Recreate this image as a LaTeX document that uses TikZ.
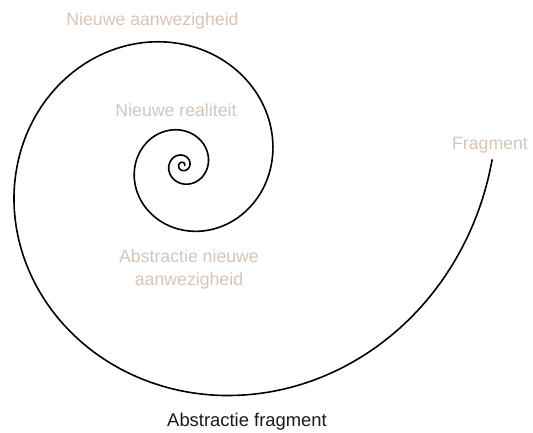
\documentclass[tikz,border=0pt]{standalone}
\usepackage{fontspec}
\setmainfont{Liberation Sans}
\usepackage{xcolor}
\usepackage{tikz}
\usetikzlibrary{positioning}

\definecolor{sand}{RGB}{214,197,183}
\definecolor{ink}{RGB}{25,25,25}

\begin{document}
\begin{tikzpicture}[
  x=1pt, y=-1pt,
  stage/.style={font=\fontsize{17.7}{22.5}\selectfont, text=sand, align=center,
                inner sep=0pt, anchor=base},
  outcome/.style={font=\fontsize{18.4}{22}\selectfont, text=ink, inner sep=0pt,
                  anchor=base},
  curl/.style={line width=1.6pt, black, line cap=round}
]
\useasboundingbox (0,0) rectangle (533,433);

% log spiral, centre (182.6,165.2), shrinking 0.732 per quarter turn
\draw[curl] plot[domain=-1:1450, samples=500, smooth]
  ({182.6+234.8*exp(-0.1986*(\x-78.77)*pi/180)*cos(\x)},
   {165.2+234.8*exp(-0.1986*(\x-78.77)*pi/180)*sin(\x)});

\node[stage] (presence) at (152.5,26) {Nieuwe aanwezigheid};
\node[stage] (reality) at (176,117) {Nieuwe realiteit};
\node[stage] (frag) at (490,149.5) {Fragment};
\node[stage] (absnew) at (189,285) {Abstractie nieuwe\\aanwezigheid};
\node[outcome] (absfrag) at (247,426) {Abstractie fragment};
\end{tikzpicture}
\end{document}
